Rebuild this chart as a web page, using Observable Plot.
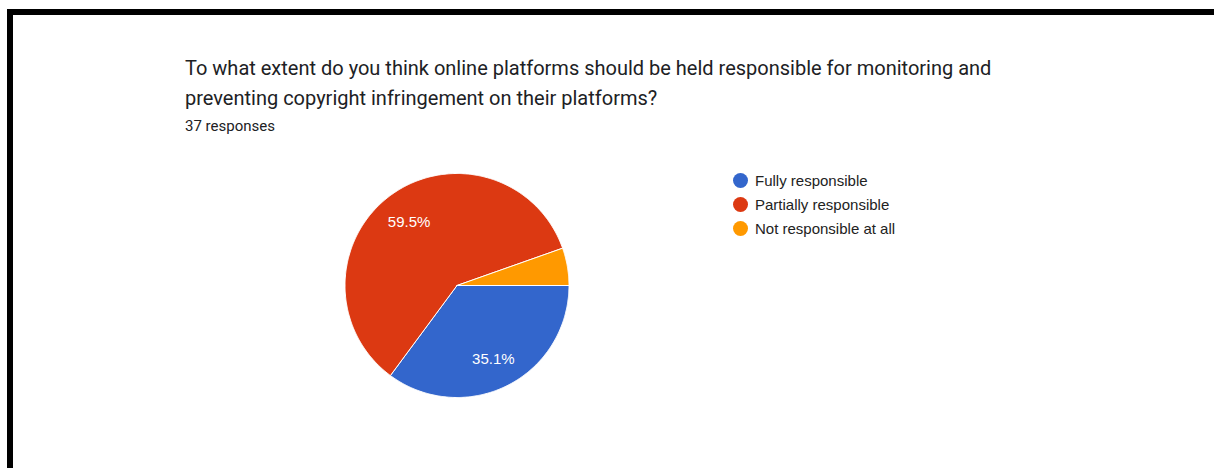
<!DOCTYPE html>
<html><head><meta charset="utf-8">
<script src="https://cdn.jsdelivr.net/npm/d3@7"></script>
<script src="https://cdn.jsdelivr.net/npm/@observablehq/plot@0.6"></script>
<style>
html,body{margin:0;padding:0;background:#fff;width:1214px;height:468px;overflow:hidden;font-family:Roboto,Arial,sans-serif;}
#frame{position:absolute;left:7px;top:9px;right:0;bottom:0;border-top:6px solid #000;border-left:6px solid #000;}
#title{position:absolute;left:185px;top:53px;font-size:20px;line-height:30px;color:#202124;white-space:nowrap;}
#sub{position:absolute;left:185px;top:117px;font-size:15px;color:#202124;}
#chart{position:absolute;left:0;top:0;}
#legend{position:absolute;left:733px;top:168px;font-size:15px;color:#222;font-family:"Liberation Sans",Arial,sans-serif;}
.item{display:flex;align-items:center;height:24px;}
.sw{width:15px;height:15px;border-radius:50%;margin-right:7px;}
</style>
</head><body>
<div id="frame"></div>
<div id="title">To what extent do you think online platforms should be held responsible for monitoring and<br>preventing copyright infringement on their platforms?</div>
<div id="sub">37 responses</div>
<div id="chart"></div>
<div id="legend"></div>
<script>
const categories = ["Fully responsible", "Partially responsible", "Not responsible at all"];
const counts = [13, 22, 2];
const colors = ["#3366cc", "#dc3912", "#ff9900"];

const total = d3.sum(counts);
// slice outlines on the unit circle, clockwise from 3 o'clock, y downward
const slicePts = [];
const labels = [];
let cum = 0;
categories.forEach((c, i) => {
  const a0 = 2 * Math.PI * cum / total;
  cum += counts[i];
  const a1 = 2 * Math.PI * cum / total;
  const n = Math.max(2, Math.ceil((a1 - a0) / 0.01));
  slicePts.push({cat: c, x: 0, y: 0});
  for (let k = 0; k <= n; k++) {
    const a = a0 + (a1 - a0) * k / n;
    slicePts.push({cat: c, x: Math.cos(a), y: Math.sin(a)});
  }
  slicePts.push({cat: c, x: 0, y: 0});
  const pct = counts[i] / total * 100;
  if (pct > 8) {
    const am = (a0 + a1) / 2;
    labels.push({cat: c, x: 0.72 * Math.cos(am), y: 0.72 * Math.sin(am), text: pct.toFixed(1) + "%"});
  }
});

const cx = 456.5, cy = 285, r = 112, W = 1214, H = 468;
const plot = Plot.plot({
  width: W, height: H,
  marginLeft: cx - r, marginRight: W - (cx + r),
  marginTop: cy - r, marginBottom: H - (cy + r),
  x: {domain: [-1, 1], axis: null},
  y: {domain: [-1, 1], axis: null, reverse: true},
  color: {domain: categories, range: colors},
  style: {background: "transparent", fontFamily: "'Liberation Sans', Arial, sans-serif"},
  marks: [
    Plot.line(slicePts, {x: "x", y: "y", z: "cat", fill: "cat", stroke: "#fff", strokeWidth: 1, curve: "linear"}),
    Plot.text(labels, {x: "x", y: "y", text: "text", fill: "#fff", fontSize: 15, dy: 2})
  ]
});
document.getElementById("chart").appendChild(plot);

const leg = d3.select("#legend");
categories.forEach((c, i) => {
  const it = leg.append("div").attr("class", "item");
  it.append("div").attr("class", "sw").style("background", colors[i]);
  it.append("span").text(c);
});
</script>
</body></html>
